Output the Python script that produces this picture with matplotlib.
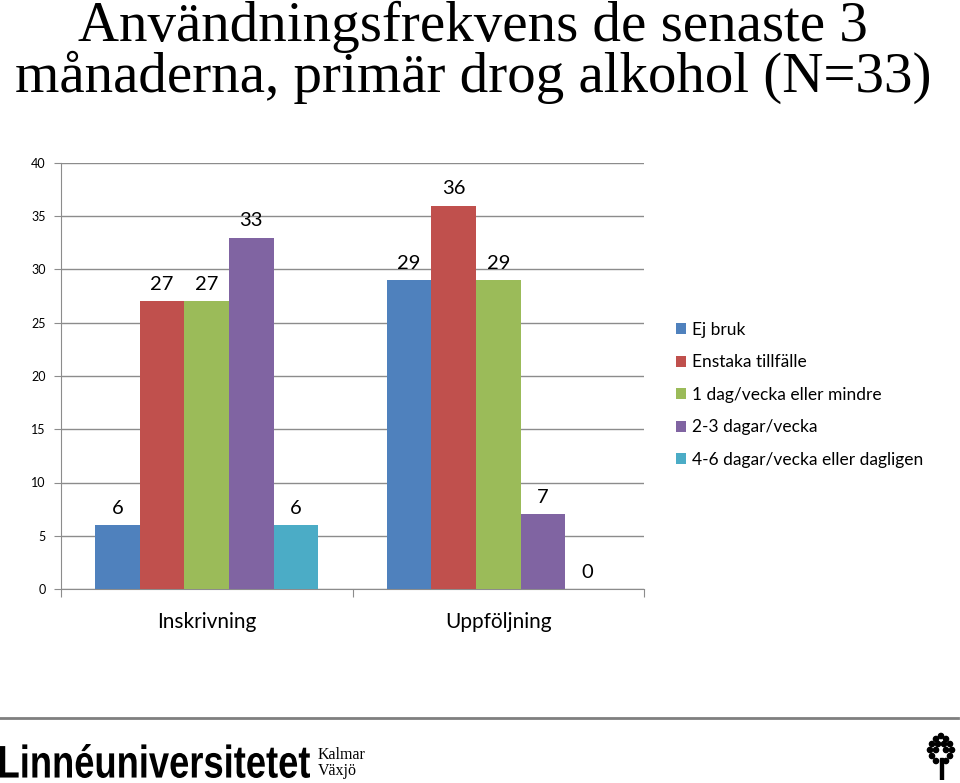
import numpy as np
import matplotlib
matplotlib.use("Agg")
import matplotlib.pyplot as plt
from matplotlib.patches import Patch, Circle, Rectangle, PathPatch
from matplotlib.lines import Line2D
from matplotlib.textpath import TextPath
from matplotlib.font_manager import FontProperties
from matplotlib.transforms import Affine2D

title = "Användningsfrekvens de senaste 3\nmånaderna, primär drog alkohol (N=33)"
groups = ["Inskrivning", "Uppföljning"]
series = ["Ej bruk", "Enstaka tillfälle", "1 dag/vecka eller mindre",
          "2-3 dagar/vecka", "4-6 dagar/vecka eller dagligen"]
values = [
    [6, 29],
    [27, 36],
    [27, 29],
    [33, 7],
    [6, 0],
]
colors = ["#4F81BD", "#C0504D", "#9BBB59", "#8064A2", "#4BACC6"]
yticks = [0, 5, 10, 15, 20, 25, 30, 35, 40]

plt.rcParams['font.family'] = ['Lato', 'DejaVu Sans']

fig = plt.figure(figsize=(9.6, 7.83), dpi=100)
ax = fig.add_axes([61 / 960, 1 - 589 / 783, 583 / 960, 426 / 783])

x = np.arange(len(groups))
width = 0.153
n = len(series)
for i, (name, vals, c) in enumerate(zip(series, values, colors)):
    pos = x + (i - (n - 1) / 2) * width
    ax.bar(pos, vals, width, color=c, label=name, zorder=3)
    for px, v in zip(pos, vals):
        ax.annotate(str(v), (px, v), xytext=(0, 6), textcoords="offset points",
                    ha="center", va="bottom", fontsize=14.5, color="black")

ax.set_xlim(-0.5, len(groups) - 0.5)
ax.set_ylim(0, 40)
ax.set_yticks(yticks)
ax.tick_params(axis="y", labelsize=9, length=5, color="#8c8c8c", pad=6)
ax.yaxis.grid(True, color="#8c8c8c", linewidth=1, zorder=0)
ax.set_axisbelow(True)

# category boundaries as ticks, labels in between
ax.set_xticks(np.arange(-0.5, len(groups), 1.0))
ax.set_xticklabels([])
ax.tick_params(axis="x", length=6, color="#8c8c8c")
for gx, g in zip(x, groups):
    ax.text(gx, -2.2, g, ha="center", va="top", fontsize=15)

for s in ["top", "right"]:
    ax.spines[s].set_visible(False)
for s in ["left", "bottom"]:
    ax.spines[s].set_color("#8c8c8c")

handles = [Patch(facecolor=c, edgecolor="none") for c in colors]
fig.legend(handles, series, loc="upper left", bbox_to_anchor=(669 / 960, 1 - 315 / 783),
           frameon=False, fontsize=12.5, handlelength=0.6, handleheight=0.6,
           handletextpad=0.35, labelspacing=0.95, borderaxespad=0)

fig.text(473 / 960, 1 - 1 / 783, title, ha="center", va="top", multialignment="center",
         family="Liberation Serif", fontsize=41, linespacing=0.93)

# footer
fig.add_artist(Line2D([0, 958 / 960], [1 - 718 / 783] * 2, color="#7f7f7f", linewidth=2))

# page-pixel axes for the logo text
pg = fig.add_axes([0, 0, 1, 1], zorder=-1)
pg.set_xlim(0, 960)
pg.set_ylim(0, 783)
pg.axis("off")
tp = TextPath((0, 0), "Linnéuniversitetet", size=40,
              prop=FontProperties(family="Liberation Sans", weight="bold"))
ext = tp.get_extents()
sx = 310 / ext.width
sy = 34 / ext.height
tp = Affine2D().translate(-ext.x0, -ext.y0).scale(sx, sy).translate(0, 783 - 778).transform_path(tp)
pg.add_patch(PathPatch(tp, color="black", lw=0))

fig.text(318 / 960, 1 - 755 / 783, "Kalmar", ha="left", va="center",
         family="Liberation Serif", fontsize=11.5)
fig.text(318 / 960, 1 - 771 / 783, "Växjö", ha="left", va="center",
         family="Liberation Serif", fontsize=11.5)

tree = fig.add_axes([925 / 960, 1 - 780 / 783, 32 / 960, 48 / 783])
tree.set_xlim(0, 32)
tree.set_ylim(0, 48)
tree.axis("off")
tree.add_patch(Rectangle((14.5, 0), 3, 22, color="black"))
for cx, cy in [(16, 44), (11, 41), (21, 41), (7, 36), (13, 36), (19, 36), (25, 36),
               (5, 30), (11, 30), (21, 30), (27, 30), (7, 24), (25, 24), (11, 19), (21, 19)]:
    tree.add_patch(Circle((cx, cy), 2.6, color="black"))

fig.savefig("out.png", dpi=100)
